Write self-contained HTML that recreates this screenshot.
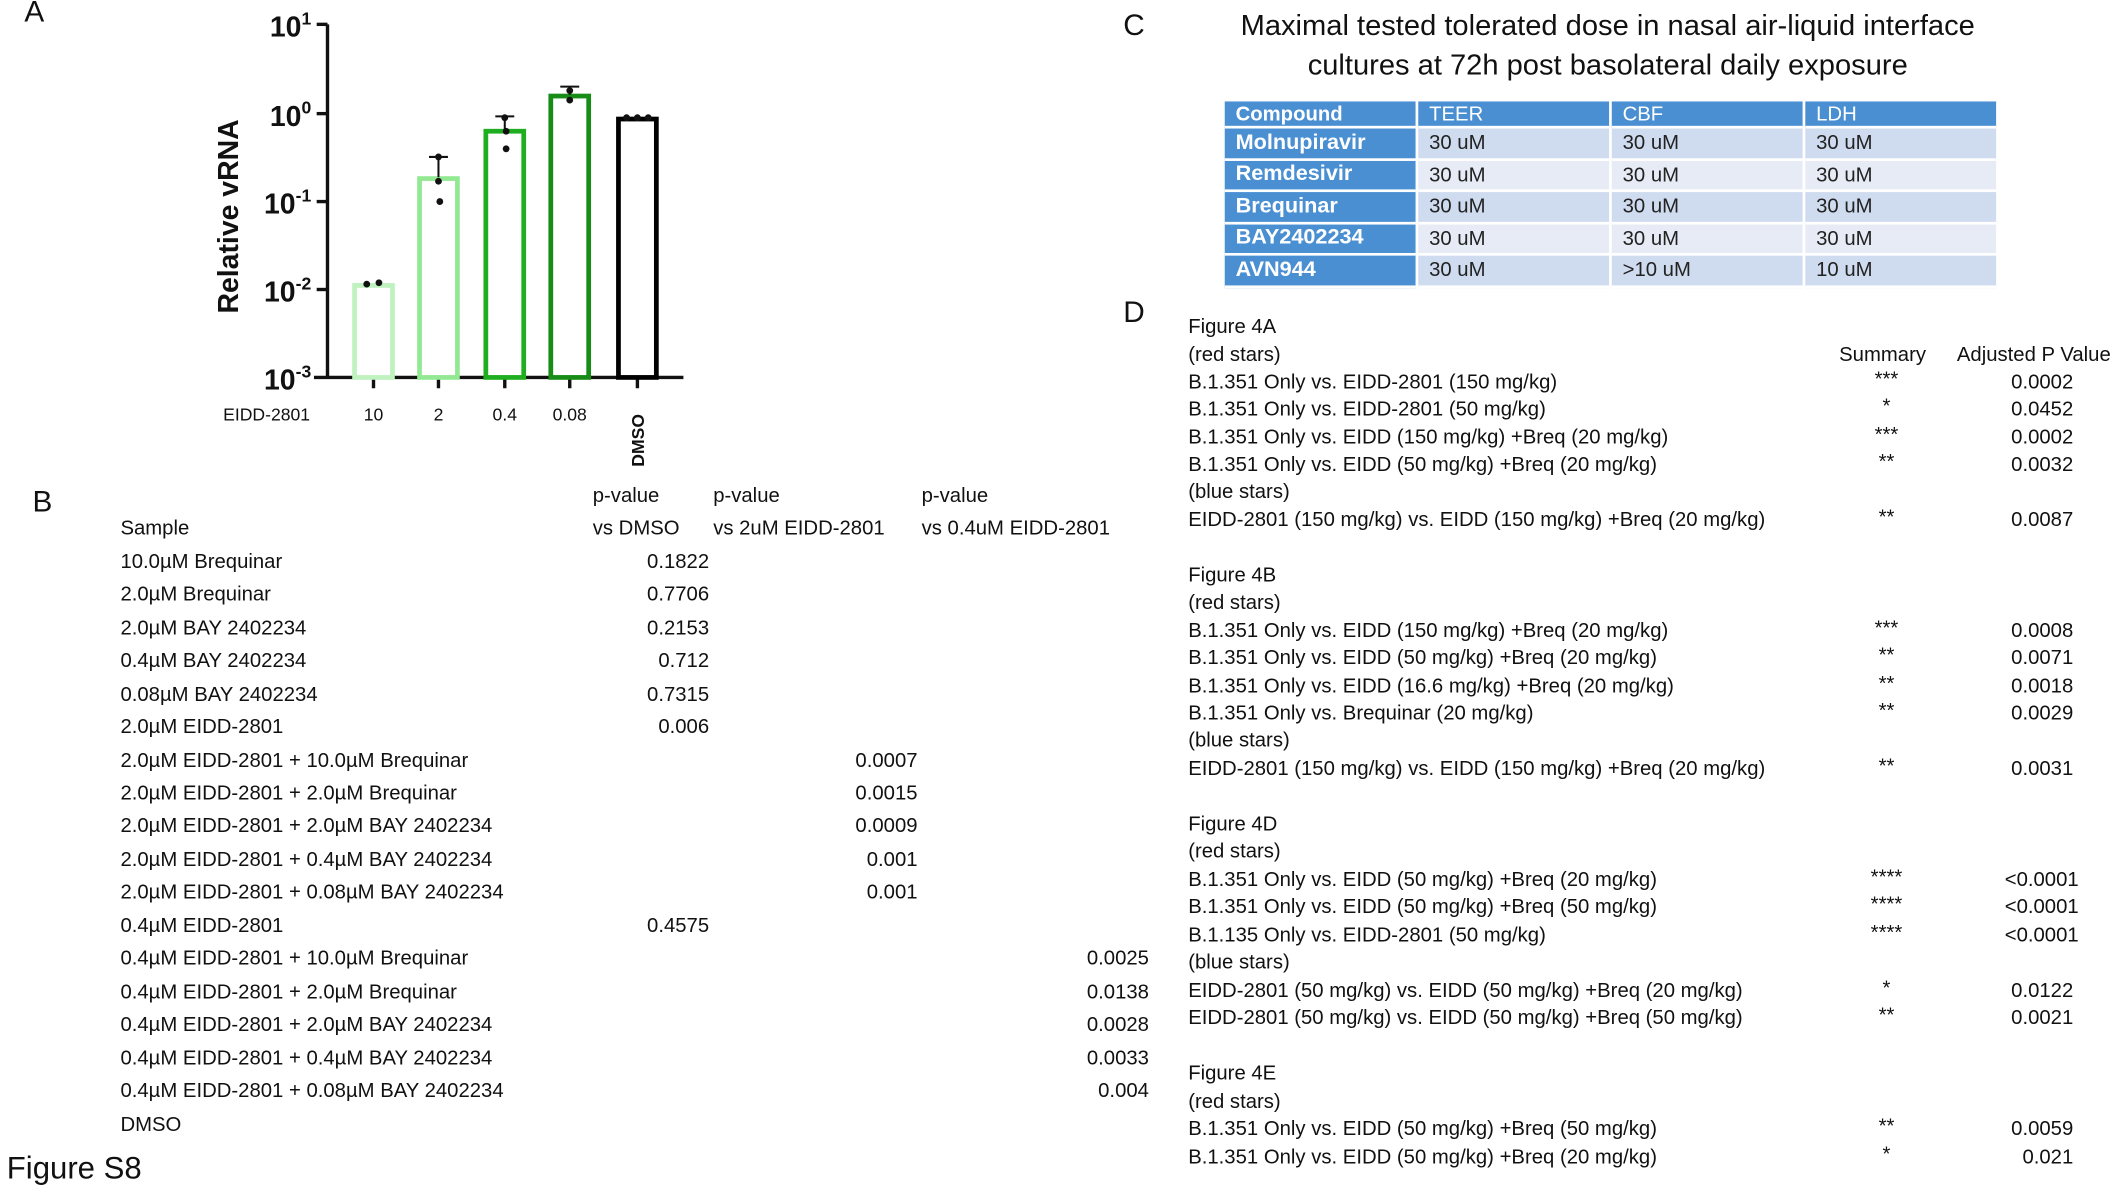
<!DOCTYPE html>
<html><head><meta charset="utf-8"><style>
html,body{margin:0;padding:0;background:#fff;overflow:hidden;width:2122px;height:1181px}
#w{position:absolute;left:0;top:0;width:1568px;height:873px;transform:scale(1.3533,1.3528);transform-origin:0 0;font-family:"Liberation Sans",sans-serif;color:#111}
.t{position:absolute;font-size:15px;white-space:nowrap;line-height:18px}
.r{text-align:right}
.c{text-align:center}
table{position:absolute;left:903px;top:75px;border-collapse:separate;border-spacing:2px 0;font-size:15px}
td{height:21.5px;padding:0 8px;border-bottom:2px solid #fff;width:125px;color:#222}
td.h{background:#4a8fd2;color:#fff;font-weight:bold;font-size:16px}
tr.hd td{background:#4a8fd2;color:#fff;height:18px}
tr.a td:not(.h){background:#cfdbee}
tr.b td:not(.h){background:#e6ebf5}
</style></head><body><div id="w">
<div class="t" style="left:18px;top:0;font-size:22px">A</div>
<div class="t" style="left:24px;top:362px;font-size:22px">B</div>
<div class="t" style="left:830px;top:10px;font-size:22px">C</div>
<div class="t" style="left:830px;top:222px;font-size:22px">D</div>
<div class="t" style="left:5px;top:850px;font-size:23px;line-height:26px">Figure S8</div>

<svg style="position:absolute;left:0;top:0" width="560" height="360">
<g font-family="Liberation Sans" font-weight="bold" fill="#111">
<text x="230" y="27" font-size="21" text-anchor="end">10<tspan font-size="13" dy="-9">1</tspan></text>
<text x="230" y="93" font-size="21" text-anchor="end">10<tspan font-size="13" dy="-9">0</tspan></text>
<text x="230" y="158" font-size="21" text-anchor="end">10<tspan font-size="13" dy="-9">-1</tspan></text>
<text x="230" y="223" font-size="21" text-anchor="end">10<tspan font-size="13" dy="-9">-2</tspan></text>
<text x="230" y="288" font-size="21" text-anchor="end">10<tspan font-size="13" dy="-9">-3</tspan></text>
<text transform="translate(176,160) rotate(-90)" font-size="21" text-anchor="middle">Relative vRNA</text>
<text transform="translate(476,345) rotate(-90)" font-size="13">DMSO</text>
</g>
<g stroke="#111" stroke-width="2.5" fill="none">
<line x1="242" y1="18" x2="242" y2="280"/>
<line x1="234" y1="18" x2="242" y2="18"/><line x1="234" y1="84" x2="242" y2="84"/><line x1="234" y1="149" x2="242" y2="149"/><line x1="234" y1="214" x2="242" y2="214"/>
<line x1="232" y1="279" x2="505" y2="279"/>
<line x1="276" y1="279" x2="276" y2="287"/><line x1="324" y1="279" x2="324" y2="287"/><line x1="373" y1="279" x2="373" y2="287"/><line x1="421" y1="279" x2="421" y2="287"/><line x1="471" y1="279" x2="471" y2="287"/>
</g>
<g fill="none" stroke-width="3.5">
<rect x="262" y="211" width="28" height="68" stroke="#bff2bf"/>
<rect x="310" y="132" width="28" height="147" stroke="#93e993"/>
<rect x="359" y="97" width="28" height="182" stroke="#1fae1f"/>
<rect x="407" y="71" width="28" height="208" stroke="#178c17"/>
<rect x="457" y="88" width="28" height="191" stroke="#000"/>
</g>
<g stroke="#111" stroke-width="1.5">
<line x1="324" y1="131" x2="324" y2="116"/><line x1="317" y1="116" x2="331" y2="116"/>
<line x1="373" y1="96" x2="373" y2="86"/><line x1="366" y1="86" x2="380" y2="86"/>
<line x1="421" y1="70" x2="421" y2="64"/><line x1="414" y1="64" x2="428" y2="64"/>
</g>
<g fill="#111">
<circle cx="271" cy="210" r="2.5"/><circle cx="280" cy="209" r="2.5"/>
<circle cx="324" cy="116" r="2.5"/><circle cx="324" cy="134" r="2.5"/><circle cx="325" cy="149" r="2.5"/>
<circle cx="373" cy="87" r="2.5"/><circle cx="374" cy="97" r="2.5"/><circle cx="374" cy="110" r="2.5"/>
<circle cx="421" cy="67" r="2.5"/><circle cx="421" cy="74" r="2.5"/>
<circle cx="463" cy="87" r="2.5"/><circle cx="471" cy="87" r="2.5"/><circle cx="479" cy="87" r="2.5"/>
</g>
<g font-family="Liberation Sans" font-size="13" fill="#111" text-anchor="middle">
<text x="197" y="311">EIDD-2801</text><text x="276" y="311">10</text><text x="324" y="311">2</text><text x="373" y="311">0.4</text><text x="421" y="311">0.08</text>
</g>
</svg>

<div class="t c" style="left:878px;top:5px;width:620px;font-size:21.5px;line-height:29px">Maximal tested tolerated dose in nasal air-liquid interface<br>cultures at 72h post basolateral daily exposure</div>
<table>
<tr class="hd"><td class="h" style="font-size:15px">Compound</td><td>TEER</td><td>CBF</td><td>LDH</td></tr>
<tr class="a"><td class="h">Molnupiravir</td><td>30 uM</td><td>30 uM</td><td>30 uM</td></tr>
<tr class="b"><td class="h">Remdesivir</td><td>30 uM</td><td>30 uM</td><td>30 uM</td></tr>
<tr class="a"><td class="h">Brequinar</td><td>30 uM</td><td>30 uM</td><td>30 uM</td></tr>
<tr class="b"><td class="h">BAY2402234</td><td>30 uM</td><td>30 uM</td><td>30 uM</td></tr>
<tr class="a"><td class="h">AVN944</td><td>30 uM</td><td>&gt;10 uM</td><td>10 uM</td></tr>
</table>

<!-- B -->
<div class="t" style="left:438px;top:358px">p-value</div>
<div class="t" style="left:527px;top:358px">p-value</div>
<div class="t" style="left:681px;top:358px">p-value</div>
<div class="t" style="left:89px;top:382px">Sample</div>
<div class="t" style="left:438px;top:382px">vs DMSO</div>
<div class="t" style="left:527px;top:382px">vs 2uM EIDD-2801</div>
<div class="t" style="left:681px;top:382px">vs 0.4uM EIDD-2801</div>

<div class="t" style="left:89px;top:407px">10.0µM Brequinar</div><div class="t r" style="left:424px;width:100px;top:407px">0.1822</div>
<div class="t" style="left:89px;top:431px">2.0µM Brequinar</div><div class="t r" style="left:424px;width:100px;top:431px">0.7706</div>
<div class="t" style="left:89px;top:456px">2.0µM BAY 2402234</div><div class="t r" style="left:424px;width:100px;top:456px">0.2153</div>
<div class="t" style="left:89px;top:480px">0.4µM BAY 2402234</div><div class="t r" style="left:424px;width:100px;top:480px">0.712</div>
<div class="t" style="left:89px;top:505px">0.08µM BAY 2402234</div><div class="t r" style="left:424px;width:100px;top:505px">0.7315</div>
<div class="t" style="left:89px;top:529px">2.0µM EIDD-2801</div><div class="t r" style="left:424px;width:100px;top:529px">0.006</div>
<div class="t" style="left:89px;top:554px">2.0µM EIDD-2801  + 10.0µM Brequinar</div><div class="t r" style="left:578px;width:100px;top:554px">0.0007</div>
<div class="t" style="left:89px;top:578px">2.0µM EIDD-2801  + 2.0µM Brequinar</div><div class="t r" style="left:578px;width:100px;top:578px">0.0015</div>
<div class="t" style="left:89px;top:602px">2.0µM EIDD-2801  + 2.0µM BAY 2402234</div><div class="t r" style="left:578px;width:100px;top:602px">0.0009</div>
<div class="t" style="left:89px;top:627px">2.0µM EIDD-2801  + 0.4µM BAY 2402234</div><div class="t r" style="left:578px;width:100px;top:627px">0.001</div>
<div class="t" style="left:89px;top:651px">2.0µM EIDD-2801  + 0.08µM BAY 2402234</div><div class="t r" style="left:578px;width:100px;top:651px">0.001</div>
<div class="t" style="left:89px;top:676px">0.4µM EIDD-2801</div><div class="t r" style="left:424px;width:100px;top:676px">0.4575</div>
<div class="t" style="left:89px;top:700px">0.4µM EIDD-2801  + 10.0µM Brequinar</div><div class="t r" style="left:749px;width:100px;top:700px">0.0025</div>
<div class="t" style="left:89px;top:725px">0.4µM EIDD-2801  + 2.0µM Brequinar</div><div class="t r" style="left:749px;width:100px;top:725px">0.0138</div>
<div class="t" style="left:89px;top:749px">0.4µM EIDD-2801  + 2.0µM BAY 2402234</div><div class="t r" style="left:749px;width:100px;top:749px">0.0028</div>
<div class="t" style="left:89px;top:774px">0.4µM EIDD-2801  + 0.4µM BAY 2402234</div><div class="t r" style="left:749px;width:100px;top:774px">0.0033</div>
<div class="t" style="left:89px;top:798px">0.4µM EIDD-2801  + 0.08µM BAY 2402234</div><div class="t r" style="left:749px;width:100px;top:798px">0.004</div>
<div class="t" style="left:89px;top:823px">DMSO</div>

<!-- D -->
<div class="t" style="left:878px;top:233px">Figure 4A</div>
<div class="t" style="left:878px;top:254px">(red stars)</div>
<div class="t" style="left:1359px;top:254px">Summary</div>
<div class="t" style="left:1446px;top:254px">Adjusted P Value</div>
<div class="t" style="left:878px;top:274px">B.1.351 Only vs. EIDD-2801  (150 mg/kg)</div><div class="t c" style="left:1364px;width:60px;top:272px">***</div><div class="t r" style="left:1432px;width:100px;top:274px">0.0002</div>
<div class="t" style="left:878px;top:294px">B.1.351 Only vs. EIDD-2801  (50 mg/kg)</div><div class="t c" style="left:1364px;width:60px;top:292px">*</div><div class="t r" style="left:1432px;width:100px;top:294px">0.0452</div>
<div class="t" style="left:878px;top:315px">B.1.351 Only vs. EIDD (150 mg/kg) +Breq (20 mg/kg)</div><div class="t c" style="left:1364px;width:60px;top:313px">***</div><div class="t r" style="left:1432px;width:100px;top:315px">0.0002</div>
<div class="t" style="left:878px;top:335px">B.1.351 Only vs. EIDD (50 mg/kg) +Breq (20 mg/kg)</div><div class="t c" style="left:1364px;width:60px;top:333px">**</div><div class="t r" style="left:1432px;width:100px;top:335px">0.0032</div>
<div class="t" style="left:878px;top:355px">(blue stars)</div>
<div class="t" style="left:878px;top:376px">EIDD-2801  (150 mg/kg) vs. EIDD (150 mg/kg) +Breq (20 mg/kg)</div><div class="t c" style="left:1364px;width:60px;top:374px">**</div><div class="t r" style="left:1432px;width:100px;top:376px">0.0087</div>

<div class="t" style="left:878px;top:417px">Figure 4B</div>
<div class="t" style="left:878px;top:437px">(red stars)</div>
<div class="t" style="left:878px;top:458px">B.1.351 Only vs. EIDD (150 mg/kg) +Breq (20 mg/kg)</div><div class="t c" style="left:1364px;width:60px;top:456px">***</div><div class="t r" style="left:1432px;width:100px;top:458px">0.0008</div>
<div class="t" style="left:878px;top:478px">B.1.351 Only vs. EIDD (50 mg/kg) +Breq (20 mg/kg)</div><div class="t c" style="left:1364px;width:60px;top:476px">**</div><div class="t r" style="left:1432px;width:100px;top:478px">0.0071</div>
<div class="t" style="left:878px;top:499px">B.1.351 Only vs. EIDD (16.6 mg/kg) +Breq (20 mg/kg)</div><div class="t c" style="left:1364px;width:60px;top:497px">**</div><div class="t r" style="left:1432px;width:100px;top:499px">0.0018</div>
<div class="t" style="left:878px;top:519px">B.1.351 Only vs. Brequinar (20 mg/kg)</div><div class="t c" style="left:1364px;width:60px;top:517px">**</div><div class="t r" style="left:1432px;width:100px;top:519px">0.0029</div>
<div class="t" style="left:878px;top:539px">(blue stars)</div>
<div class="t" style="left:878px;top:560px">EIDD-2801  (150 mg/kg) vs. EIDD (150 mg/kg) +Breq (20 mg/kg)</div><div class="t c" style="left:1364px;width:60px;top:558px">**</div><div class="t r" style="left:1432px;width:100px;top:560px">0.0031</div>

<div class="t" style="left:878px;top:601px">Figure 4D</div>
<div class="t" style="left:878px;top:621px">(red stars)</div>
<div class="t" style="left:878px;top:642px">B.1.351 Only vs. EIDD (50 mg/kg) +Breq (20 mg/kg)</div><div class="t c" style="left:1364px;width:60px;top:640px">****</div><div class="t r" style="left:1432px;width:104px;top:642px">&lt;0.0001</div>
<div class="t" style="left:878px;top:662px">B.1.351 Only vs. EIDD (50 mg/kg) +Breq (50 mg/kg)</div><div class="t c" style="left:1364px;width:60px;top:660px">****</div><div class="t r" style="left:1432px;width:104px;top:662px">&lt;0.0001</div>
<div class="t" style="left:878px;top:683px">B.1.135 Only vs. EIDD-2801  (50 mg/kg)</div><div class="t c" style="left:1364px;width:60px;top:681px">****</div><div class="t r" style="left:1432px;width:104px;top:683px">&lt;0.0001</div>
<div class="t" style="left:878px;top:703px">(blue stars)</div>
<div class="t" style="left:878px;top:724px">EIDD-2801  (50 mg/kg) vs. EIDD (50 mg/kg) +Breq (20 mg/kg)</div><div class="t c" style="left:1364px;width:60px;top:722px">*</div><div class="t r" style="left:1432px;width:100px;top:724px">0.0122</div>
<div class="t" style="left:878px;top:744px">EIDD-2801  (50 mg/kg) vs. EIDD (50 mg/kg) +Breq (50 mg/kg)</div><div class="t c" style="left:1364px;width:60px;top:742px">**</div><div class="t r" style="left:1432px;width:100px;top:744px">0.0021</div>

<div class="t" style="left:878px;top:785px">Figure 4E</div>
<div class="t" style="left:878px;top:806px">(red stars)</div>
<div class="t" style="left:878px;top:826px">B.1.351 Only vs. EIDD (50 mg/kg) +Breq (50 mg/kg)</div><div class="t c" style="left:1364px;width:60px;top:824px">**</div><div class="t r" style="left:1432px;width:100px;top:826px">0.0059</div>
<div class="t" style="left:878px;top:847px">B.1.351 Only vs. EIDD (50 mg/kg) +Breq (20 mg/kg)</div><div class="t c" style="left:1364px;width:60px;top:845px">*</div><div class="t r" style="left:1432px;width:100px;top:847px">0.021</div>
</div></body></html>
